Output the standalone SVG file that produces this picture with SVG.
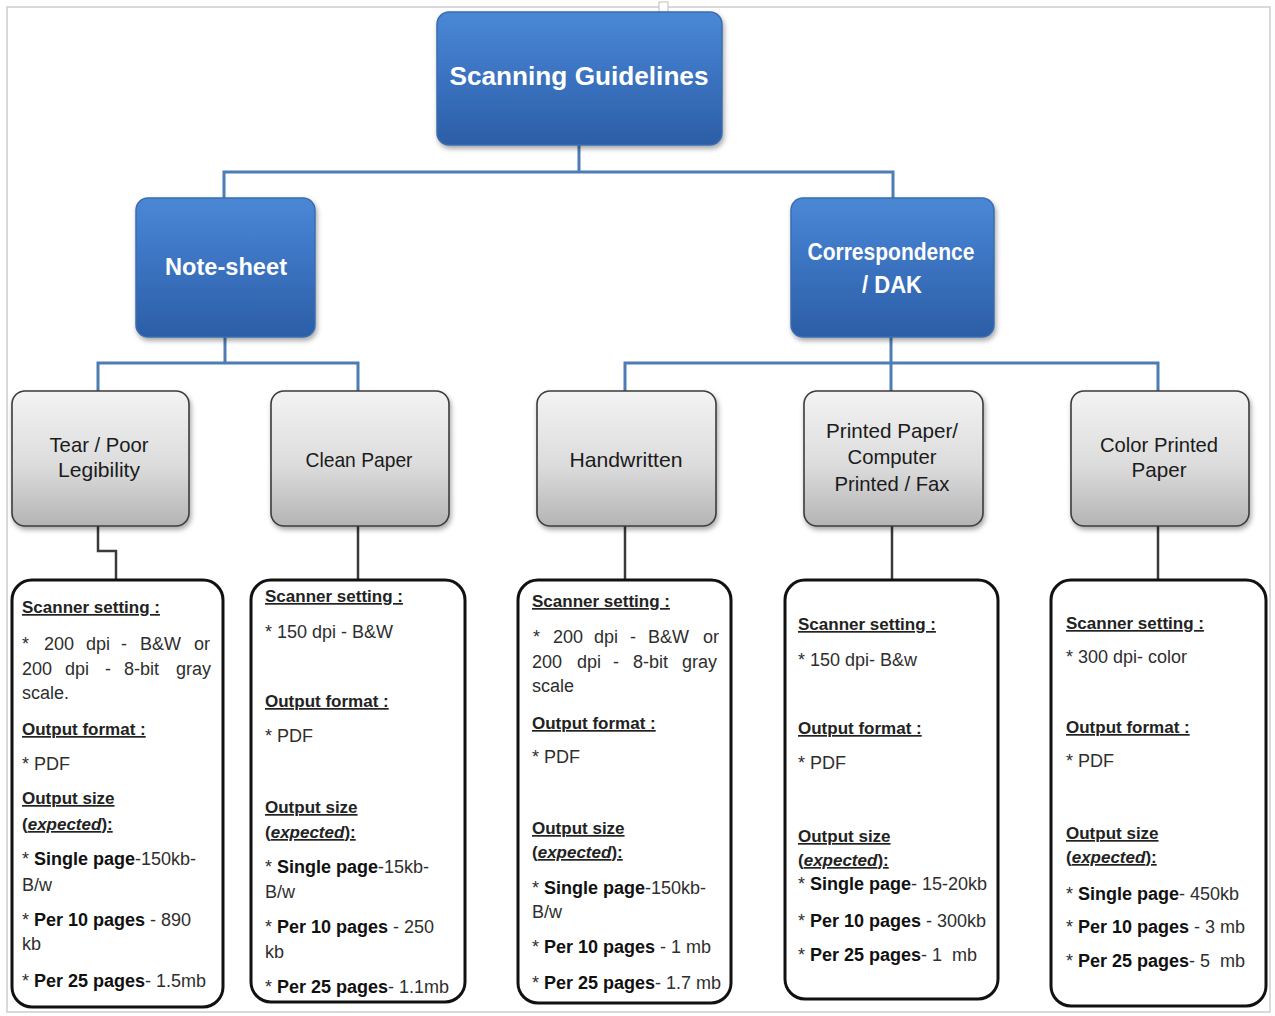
<svg xmlns="http://www.w3.org/2000/svg" width="1275" height="1016" viewBox="0 0 1275 1016">
<defs>
<linearGradient id="gBlue" x1="0" y1="0" x2="0" y2="1">
<stop offset="0" stop-color="#4a88d6"/>
<stop offset="0.5" stop-color="#3a72c0"/>
<stop offset="1" stop-color="#2c5ea6"/>
</linearGradient>
<linearGradient id="gGray" x1="0" y1="0" x2="0" y2="1">
<stop offset="0" stop-color="#f3f3f3"/>
<stop offset="0.55" stop-color="#dcdcdc"/>
<stop offset="1" stop-color="#b4b4b4"/>
</linearGradient>
<filter id="sh" x="-10%" y="-10%" width="130%" height="130%">
<feDropShadow dx="1.5" dy="3" stdDeviation="2.5" flood-color="#000" flood-opacity="0.35"/>
</filter>
<style>
.blue{fill:url(#gBlue);stroke:#3a6cb0;stroke-width:1.5;filter:url(#sh)}
.gray{fill:url(#gGray);stroke:#3c3c3c;stroke-width:1.6;filter:url(#sh)}
.box{fill:#fff;stroke:#111;stroke-width:3}
.tw{font-family:"Liberation Sans",Arial,sans-serif;font-weight:bold;fill:#fff;text-anchor:middle}
.tg{font-family:"Liberation Sans",Arial,sans-serif;font-size:21px;fill:#1b1b1b;text-anchor:middle}
.bd{font-family:"Liberation Sans",Arial,sans-serif;font-size:18px;fill:#2e2e2e}
.hd{font-size:17px;font-weight:bold;text-decoration:underline;fill:#222}
.b{font-weight:bold;fill:#111}
.cb{fill:none;stroke:#4d7db3;stroke-width:3}
.cg{fill:none;stroke:#3a3a3a;stroke-width:2.5}
</style>
</defs>
<rect x="0" y="0" width="1275" height="1016" fill="#fff"/>
<rect x="7" y="7" width="1263" height="1005" fill="none" stroke="#cdcdcd" stroke-width="1.5"/>
<rect x="659" y="2" width="9" height="14" fill="#fff" stroke="#bdbdbd" stroke-width="1"/>

<g id="connectors">
<path class="cb" d="M579 145 V172 M224 198 V172 H893 V198"/>
<path class="cb" d="M225 337 V363 M98 391 V363 H358 V391"/>
<path class="cb" d="M891 337 V363 M625 391 V363 H1158 V391 M891 363 V391"/>
<path class="cg" d="M98 526 V551 H116 V580"/>
<path class="cg" d="M358 526 V580"/>
<path class="cg" d="M625 526 V580"/>
<path class="cg" d="M892 526 V580"/>
<path class="cg" d="M1158 526 V580"/>
</g>

<g id="root">
<rect class="blue" x="437" y="12" width="285" height="133" rx="12"/>
<text class="tw" x="579" y="85" font-size="26" textLength="259" lengthAdjust="spacingAndGlyphs">Scanning Guidelines</text>
</g>
<g id="note-sheet">
<rect class="blue" x="136" y="198" width="179" height="139" rx="12"/>
<text class="tw" x="226" y="275" font-size="23" textLength="122" lengthAdjust="spacingAndGlyphs">Note-sheet</text>
</g>
<g id="correspondence">
<rect class="blue" x="791" y="198" width="203" height="139" rx="12"/>
<text class="tw" x="891" y="260" font-size="23" textLength="167" lengthAdjust="spacingAndGlyphs">Correspondence</text>
<text class="tw" x="892" y="293" font-size="23" textLength="60" lengthAdjust="spacingAndGlyphs">/ DAK</text>
</g>

<g id="tear">
<rect class="gray" x="12" y="391" width="177" height="135" rx="13"/>
<text class="tg" x="99" y="452" textLength="99" lengthAdjust="spacingAndGlyphs">Tear / Poor</text>
<text class="tg" x="99" y="477" textLength="82" lengthAdjust="spacingAndGlyphs">Legibility</text>
</g>
<g id="clean">
<rect class="gray" x="271" y="391" width="178" height="135" rx="13"/>
<text class="tg" x="359" y="467" textLength="107" lengthAdjust="spacingAndGlyphs">Clean Paper</text>
</g>
<g id="handwritten">
<rect class="gray" x="537" y="391" width="179" height="135" rx="13"/>
<text class="tg" x="626" y="467" textLength="113" lengthAdjust="spacingAndGlyphs">Handwritten</text>
</g>
<g id="printed">
<rect class="gray" x="804" y="391" width="179" height="135" rx="13"/>
<text class="tg" x="892" y="438" textLength="132" lengthAdjust="spacingAndGlyphs">Printed Paper/</text>
<text class="tg" x="892" y="464" textLength="89" lengthAdjust="spacingAndGlyphs">Computer</text>
<text class="tg" x="892" y="491" textLength="115" lengthAdjust="spacingAndGlyphs">Printed / Fax</text>
</g>
<g id="color">
<rect class="gray" x="1071" y="391" width="178" height="135" rx="13"/>
<text class="tg" x="1159" y="452" textLength="118" lengthAdjust="spacingAndGlyphs">Color Printed</text>
<text class="tg" x="1159" y="477" textLength="55" lengthAdjust="spacingAndGlyphs">Paper</text>
</g>

<g id="detail-tear">
<rect class="box" x="12" y="580" width="211" height="427" rx="20"/>
<text class="bd hd" x="22" y="613">Scanner setting :</text>
<text class="bd" y="650"><tspan x="22">*</tspan><tspan x="44">200</tspan><tspan x="86">dpi</tspan><tspan x="121">-</tspan><tspan x="140">B&amp;W</tspan><tspan x="194">or</tspan></text>
<text class="bd" y="675"><tspan x="22">200</tspan><tspan x="65">dpi</tspan><tspan x="105">-</tspan><tspan x="124">8-bit</tspan><tspan x="176">gray</tspan></text>
<text class="bd" x="22" y="699">scale.</text>
<text class="bd hd" x="22" y="735">Output format :</text>
<text class="bd" x="22" y="770">* PDF</text>
<text class="bd hd" x="22" y="804">Output size</text>
<text class="bd hd" x="22" y="830">(<tspan font-style="italic">expected</tspan>):</text>
<text class="bd" x="22" y="865">* <tspan class="b">Single page</tspan>-150kb-</text>
<text class="bd" x="22" y="891">B/w</text>
<text class="bd" x="22" y="926">* <tspan class="b">Per 10 pages</tspan> - 890</text>
<text class="bd" x="22" y="950">kb</text>
<text class="bd" x="22" y="987">* <tspan class="b">Per 25 pages</tspan>- 1.5mb</text>
</g>

<g id="detail-clean">
<rect class="box" x="251" y="580" width="214" height="422" rx="20"/>
<text class="bd hd" x="265" y="602">Scanner setting :</text>
<text class="bd" x="265" y="638">* 150 dpi - B&amp;W</text>
<text class="bd hd" x="265" y="707">Output format :</text>
<text class="bd" x="265" y="742">* PDF</text>
<text class="bd hd" x="265" y="813">Output size</text>
<text class="bd hd" x="265" y="838">(<tspan font-style="italic">expected</tspan>):</text>
<text class="bd" x="265" y="873">* <tspan class="b">Single page</tspan>-15kb-</text>
<text class="bd" x="265" y="898">B/w</text>
<text class="bd" x="265" y="933">* <tspan class="b">Per 10 pages</tspan> - 250</text>
<text class="bd" x="265" y="958">kb</text>
<text class="bd" x="265" y="993">* <tspan class="b">Per 25 pages</tspan>- 1.1mb</text>
</g>

<g id="detail-handwritten">
<rect class="box" x="518" y="580" width="213" height="423" rx="20"/>
<text class="bd hd" x="532" y="607">Scanner setting :</text>
<text class="bd" y="643"><tspan x="533">*</tspan><tspan x="553">200</tspan><tspan x="594">dpi</tspan><tspan x="630">-</tspan><tspan x="648">B&amp;W</tspan><tspan x="703">or</tspan></text>
<text class="bd" y="668"><tspan x="532">200</tspan><tspan x="577">dpi</tspan><tspan x="613">-</tspan><tspan x="633">8-bit</tspan><tspan x="682">gray</tspan></text>
<text class="bd" x="532" y="692">scale</text>
<text class="bd hd" x="532" y="729">Output format :</text>
<text class="bd" x="532" y="763">* PDF</text>
<text class="bd hd" x="532" y="834">Output size</text>
<text class="bd hd" x="532" y="858">(<tspan font-style="italic">expected</tspan>):</text>
<text class="bd" x="532" y="894">* <tspan class="b">Single page</tspan>-150kb-</text>
<text class="bd" x="532" y="918">B/w</text>
<text class="bd" x="532" y="953">* <tspan class="b">Per 10 pages</tspan> - 1 mb</text>
<text class="bd" x="532" y="989">* <tspan class="b">Per 25 pages</tspan>- 1.7 mb</text>
</g>

<g id="detail-printed">
<rect class="box" x="785" y="580" width="213" height="419" rx="20"/>
<text class="bd hd" x="798" y="630">Scanner setting :</text>
<text class="bd" x="798" y="666">* 150 dpi- B&amp;w</text>
<text class="bd hd" x="798" y="734">Output format :</text>
<text class="bd" x="798" y="769">* PDF</text>
<text class="bd hd" x="798" y="842">Output size</text>
<text class="bd hd" x="798" y="866">(<tspan font-style="italic">expected</tspan>):</text>
<text class="bd" x="798" y="890">* <tspan class="b">Single page</tspan>- 15-20kb</text>
<text class="bd" x="798" y="927">* <tspan class="b">Per 10 pages</tspan> - 300kb</text>
<text class="bd" x="798" y="961">* <tspan class="b">Per 25 pages</tspan>- 1&#160; mb</text>
</g>

<g id="detail-color">
<rect class="box" x="1051" y="580" width="215" height="426" rx="20"/>
<text class="bd hd" x="1066" y="629">Scanner setting :</text>
<text class="bd" x="1066" y="663">* 300 dpi- color</text>
<text class="bd hd" x="1066" y="733">Output format :</text>
<text class="bd" x="1066" y="767">* PDF</text>
<text class="bd hd" x="1066" y="839">Output size</text>
<text class="bd hd" x="1066" y="863">(<tspan font-style="italic">expected</tspan>):</text>
<text class="bd" x="1066" y="900">* <tspan class="b">Single page</tspan>- 450kb</text>
<text class="bd" x="1066" y="933">* <tspan class="b">Per 10 pages</tspan> - 3 mb</text>
<text class="bd" x="1066" y="967">* <tspan class="b">Per 25 pages</tspan>- 5&#160; mb</text>
</g>
</svg>
